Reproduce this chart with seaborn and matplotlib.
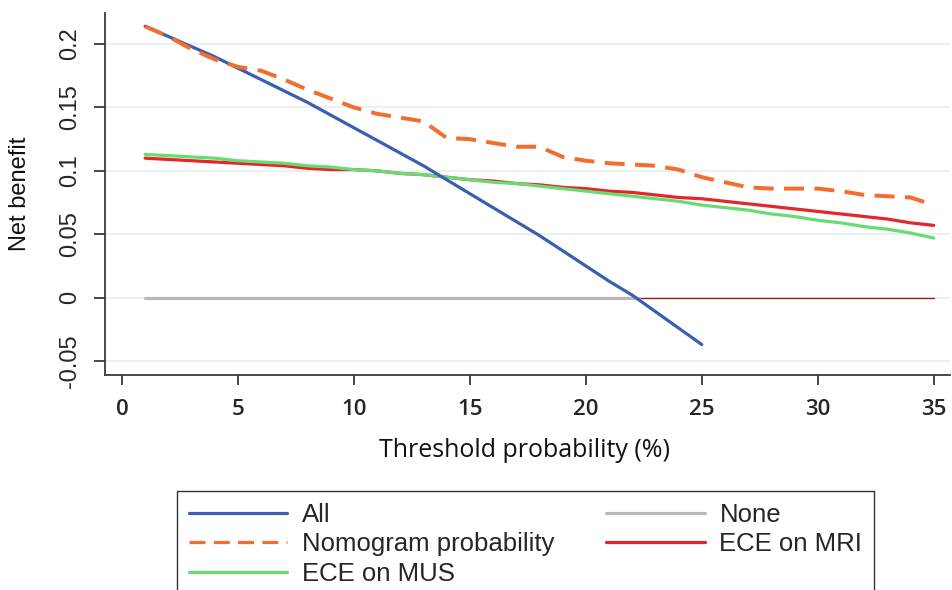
import numpy as np
import pandas as pd
import matplotlib
matplotlib.use("Agg")
import matplotlib.pyplot as plt
import seaborn as sns

# ---- data ----
thr_all = list(range(1, 26))
nb_all = [0.214, 0.206, 0.198, 0.190, 0.181, 0.172, 0.163, 0.154, 0.144, 0.134,
          0.124, 0.114, 0.104, 0.093, 0.082, 0.071, 0.060, 0.049, 0.037, 0.025,
          0.013, 0.002, -0.011, -0.024, -0.037]

thr = list(range(1, 36))
nb_nomogram = [0.214, 0.206, 0.196, 0.188, 0.182, 0.179, 0.172, 0.164, 0.157, 0.150,
               0.145, 0.142, 0.139, 0.126, 0.125, 0.122, 0.119, 0.119, 0.111, 0.108,
               0.106, 0.105, 0.104, 0.101, 0.095, 0.091, 0.087, 0.086, 0.086, 0.086,
               0.084, 0.081, 0.080, 0.079, 0.073]
nb_mus = [0.113, 0.112, 0.111, 0.110, 0.108, 0.107, 0.106, 0.104, 0.103, 0.101,
          0.100, 0.098, 0.097, 0.095, 0.093, 0.091, 0.090, 0.088, 0.086, 0.084,
          0.082, 0.080, 0.078, 0.076, 0.073, 0.071, 0.069, 0.066, 0.064, 0.061,
          0.059, 0.056, 0.054, 0.051, 0.047]
nb_mri = [0.110, 0.109, 0.108, 0.107, 0.106, 0.105, 0.104, 0.102, 0.101, 0.101,
          0.100, 0.098, 0.097, 0.095, 0.093, 0.092, 0.090, 0.089, 0.087, 0.086,
          0.084, 0.083, 0.081, 0.079, 0.078, 0.076, 0.074, 0.072, 0.070, 0.068,
          0.066, 0.064, 0.062, 0.059, 0.057]
thr_none = [1, 22.3]
nb_none = [0.0, 0.0]
thr_zero_tail = [22.3, 35]
nb_zero_tail = [0.0, 0.0]

xticks = [0, 5, 10, 15, 20, 25, 30, 35]
yticks = [-0.05, 0, 0.05, 0.1, 0.15, 0.2]
ytick_labels = ["-0.05", "0", "0.05", "0.1", "0.15", "0.2"]

labels = ["All", "Nomogram probability", "ECE on MUS", "None", "ECE on MRI"]
colors = {"All": "#3a5fae", "Nomogram probability": "#f26e2e", "ECE on MUS": "#66dc72",
          "None": "#b9b9b9", "ECE on MRI": "#e3262a"}

# ---- figure ----
sns.set_style("white")
W, H = 953, 590
fig = plt.figure(figsize=(W / 100, H / 100), dpi=100)
ax = fig.add_axes([105 / W, 1 - 375 / H, (950 - 105) / W, (375 - 13) / H])

lw = 2.3
sns.lineplot(x=thr_zero_tail, y=nb_zero_tail, ax=ax, color="#8c1f22", linewidth=1.0, zorder=2)
sns.lineplot(x=thr_none, y=nb_none, ax=ax, color=colors["None"], linewidth=lw,
             label="None", zorder=3)
sns.lineplot(x=thr, y=nb_mri, ax=ax, color=colors["ECE on MRI"], linewidth=lw,
             label="ECE on MRI", zorder=4)
sns.lineplot(x=thr, y=nb_mus, ax=ax, color=colors["ECE on MUS"], linewidth=lw,
             label="ECE on MUS", zorder=5)
sns.lineplot(x=thr_all, y=nb_all, ax=ax, color=colors["All"], linewidth=lw,
             label="All", zorder=6)
sns.lineplot(x=thr, y=nb_nomogram, ax=ax, color=colors["Nomogram probability"],
             linewidth=lw * 1.25, linestyle=(0, (5, 2.6)), label="Nomogram probability",
             zorder=7)

if ax.get_legend() is not None:
    ax.get_legend().remove()

ax.set_xlim(-0.73, 35.7)
ax.set_ylim(-0.061, 0.2245)

ax.yaxis.grid(True, color="#e6eff2", linewidth=1.2)
ax.xaxis.grid(False)
ax.set_axisbelow(True)

for s in ["top", "right"]:
    ax.spines[s].set_visible(False)
for s in ["left", "bottom"]:
    ax.spines[s].set_color("#3a3a3a")
    ax.spines[s].set_linewidth(1.3)

ax.set_xticks(xticks)
ax.set_xticklabels([str(v) for v in xticks], fontfamily="Open Sans", fontsize=16,
                   fontweight="semibold")
ax.set_yticks(yticks)
ax.set_yticklabels(ytick_labels, fontfamily="Liberation Sans", fontsize=17,
                   rotation=90, va="center", ha="right")
ax.tick_params(axis="x", bottom=True, direction="out", length=7, width=1.3,
               color="#3a3a3a", pad=10)
ax.tick_params(axis="y", left=True, direction="out", length=8, width=1.3,
               color="#3a3a3a", pad=9)

ax.set_xlabel("Threshold probability (%)", fontfamily="Open Sans", fontsize=18,
              color="#111111")
ax.xaxis.set_label_coords(0.497, -0.175)
ax.set_ylabel("Net benefit", fontfamily="Liberation Sans", fontsize=17, color="#111111")
ax.yaxis.set_label_coords(-0.088, 0.5)

handles_map = {}
for ln in ax.get_lines():
    if ln.get_label() in labels:
        handles_map[ln.get_label()] = ln
handles = [handles_map[l] for l in labels]

leg = fig.legend(handles, labels, ncol=2, loc="upper left",
                 bbox_to_anchor=(177 / W, 1 - 491 / H),
                 prop={"family": "Liberation Sans", "size": 18.5},
                 frameon=True, fancybox=False, framealpha=1, edgecolor="#333333",
                 handlelength=3.85, handletextpad=0.58, labelspacing=0.22,
                 columnspacing=1.98, borderpad=0.45, borderaxespad=0)
leg.get_frame().set_linewidth(1.0)
for h in leg.legend_handles:
    h.set_linewidth(2.3)

fig.savefig("out.png", dpi=100)
